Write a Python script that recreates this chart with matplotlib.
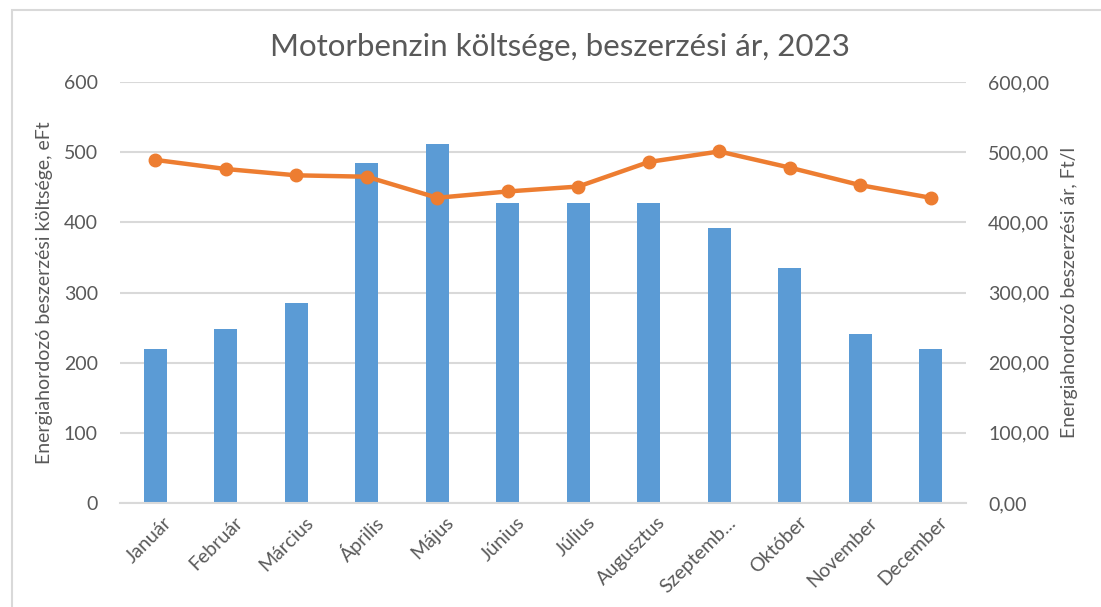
import matplotlib.pyplot as plt
import matplotlib.transforms as mtransforms
from matplotlib.patches import Rectangle
from matplotlib.ticker import FuncFormatter

plt.rcParams['font.family'] = ['Lato', 'DejaVu Sans']

months = ['Január', 'Február', 'Március', 'Április', 'Május', 'Június',
          'Július', 'Augusztus', 'Szeptemb...', 'Október', 'November', 'December']
cost = [220, 248, 285, 485, 512, 428, 427, 427, 392, 335, 241, 219]
price = [489, 476, 467, 465, 435, 444, 451, 486, 501, 478, 453, 435]

grey = '#595959'
blue = '#5B9BD5'
orange = '#ED7D31'

fig = plt.figure(figsize=(11.01, 6.07), dpi=100)
fig.patches.append(Rectangle((12 / 1101, -0.1), 1.2, 1.1 - 10 / 607, transform=fig.transFigure,
                             fill=False, edgecolor='#d9d9d9', linewidth=1.5))

ax1 = fig.add_axes([120 / 1101, 104 / 607, 846 / 1101, 421 / 607])
x = range(len(months))
ax1.bar(x, cost, width=0.33, color=blue, zorder=2)
ax1.set_xlim(-0.5, len(months) - 0.5)
ax1.set_ylim(0, 600)
ax1.set_yticks(range(0, 601, 100))
ax1.grid(axis='y', color='#d9d9d9', linewidth=1.5, zorder=0)
ax1.set_axisbelow(True)
for s in ['top', 'right', 'left']:
    ax1.spines[s].set_visible(False)
ax1.spines['bottom'].set_color('#d9d9d9')
ax1.spines['bottom'].set_linewidth(1.5)
ax1.tick_params(axis='both', length=0, colors=grey, labelsize=14)
ax1.tick_params(axis='y', pad=16)
ax1.tick_params(axis='x', pad=12)
ax1.set_xticks(list(x))
ax1.set_xticklabels(months, rotation=45, ha='right', va='center', rotation_mode='anchor')
shift = mtransforms.ScaledTranslation(14 / 100, 0, fig.dpi_scale_trans)
for lbl in ax1.get_xticklabels():
    lbl.set_transform(lbl.get_transform() + shift)
ax1.set_ylabel('Energiahordozó beszerzési költsége, eFt', color=grey, fontsize=14, labelpad=8)

ax2 = ax1.twinx()
ax2.plot(x, price, color=orange, linewidth=3.2, marker='o', markersize=9)
ax2.set_ylim(0, 600)
ax2.set_yticks(range(0, 601, 100))
ax2.yaxis.set_major_formatter(FuncFormatter(lambda v, p: f'{v:.2f}'.replace('.', ',')))
for s in ['top', 'right', 'left', 'bottom']:
    ax2.spines[s].set_visible(False)
ax2.tick_params(axis='y', length=0, colors=grey, labelsize=14, pad=16)
ax2.set_ylabel('Energiahordozó beszerzési ár, Ft/l', color=grey, fontsize=14, labelpad=8)

fig.text(560 / 1101, 1 - 47 / 607, 'Motorbenzin költsége, beszerzési ár, 2023',
         ha='center', va='center', fontsize=22.5, color=grey)

fig.savefig('out.png', dpi=100)
